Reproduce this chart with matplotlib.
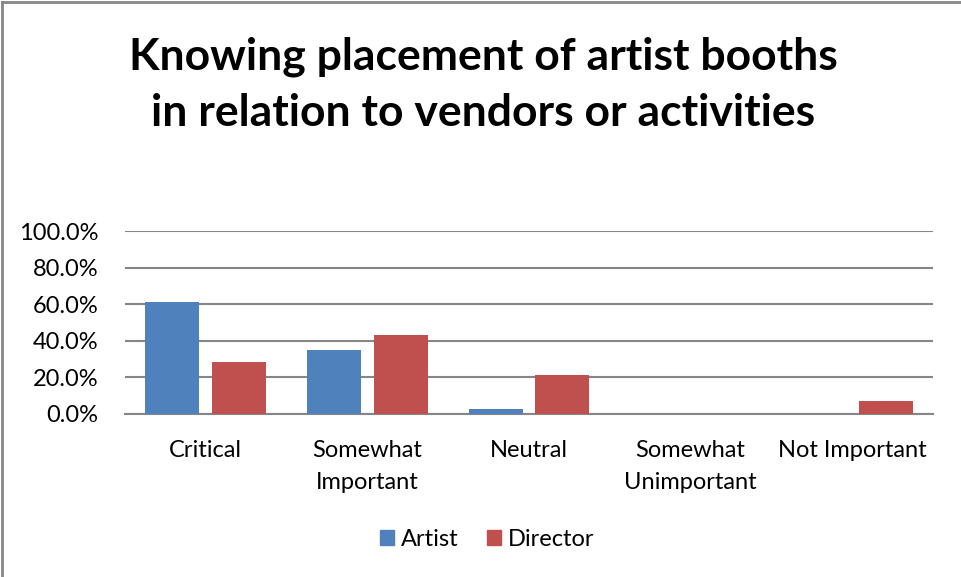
import matplotlib
matplotlib.use('Agg')
import matplotlib.pyplot as plt
import numpy as np
from matplotlib.lines import Line2D
from matplotlib.ticker import FuncFormatter

categories = ['Critical', 'Somewhat\nImportant', 'Neutral', 'Somewhat\nUnimportant', 'Not Important']
artist = [61.1, 35.2, 2.8, 0.0, 0.0]
director = [28.6, 42.9, 21.4, 0.0, 7.1]
yticks = [0, 20, 40, 60, 80, 100]

blue = '#4f81bd'
red = '#c0504d'
grid_col = '#868686'

plt.rcParams['font.family'] = ['Lato', 'DejaVu Sans']

fig = plt.figure(figsize=(9.61, 5.77), dpi=100)
ax = fig.add_axes([125 / 961, 1 - 414 / 577, 808 / 961, 183 / 577])

x = np.arange(len(categories))
w = 0.334
off = 0.207
ax.bar(x - off, artist, w, color=blue, zorder=3)
ax.bar(x + off, director, w, color=red, zorder=3)

ax.set_xlim(-0.5, len(categories) - 0.5)
ax.set_ylim(0, 100)
ax.set_yticks(yticks)
ax.yaxis.set_major_formatter(FuncFormatter(lambda v, p: '%.1f%%' % v))
ax.grid(axis='y', color=grid_col, linewidth=1.5, zorder=0)
for s in ['top', 'right', 'left']:
    ax.spines[s].set_visible(False)
ax.spines['bottom'].set_color(grid_col)
ax.spines['bottom'].set_linewidth(1.5)
ax.set_xticks(x)
ax.set_xticklabels(categories, fontsize=17, linespacing=1.6)
ax.tick_params(axis='x', length=0, pad=19)
ax.tick_params(axis='y', length=0, pad=19, labelsize=17)
for lab in ax.get_yticklabels() + ax.get_xticklabels():
    lab.set_color('#000000')

fig.text(0.503, 1 - 85 / 577, 'Knowing placement of artist booths\nin relation to vendors or activities',
         ha='center', va='center', fontsize=32, fontweight='bold', linespacing=1.5)

handles = [plt.Rectangle((0, 0), 1, 1, color=blue), plt.Rectangle((0, 0), 1, 1, color=red)]
fig.legend(handles, ['Artist', 'Director'], loc='center', bbox_to_anchor=(487 / 961, 1 - 539 / 577),
           ncol=2, frameon=False, fontsize=17, handlelength=0.6, handleheight=0.6,
           handletextpad=0.3, columnspacing=1.2)

# chart border along the top and left edges
fig.add_artist(Line2D([2 / 961, 2 / 961], [0, 1 - 2 / 577], color=grid_col, linewidth=2))
fig.add_artist(Line2D([2 / 961, 1], [1 - 2 / 577, 1 - 2 / 577], color=grid_col, linewidth=2))

fig.savefig('out.png', dpi=100)
